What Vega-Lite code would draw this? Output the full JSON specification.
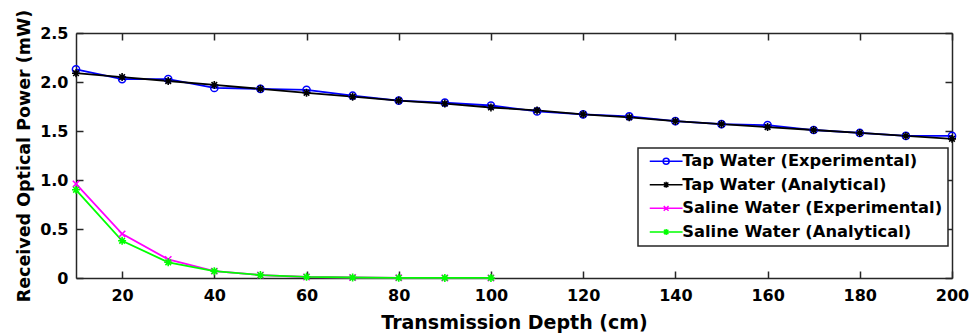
{
  "$schema": "https://vega.github.io/schema/vega-lite/v6.json",
  "width": 876,
  "height": 245,
  "autosize": "none",
  "padding": {"left": 76, "top": 33, "right": 18, "bottom": 55},
  "background": "white",
  "config": {
    "font": "DejaVu Sans",
    "view": {"stroke": null},
    "axis": {
      "domainColor": "#262626",
      "domainWidth": 1.5,
      "tickColor": "#262626",
      "tickWidth": 1.5,
      "tickSize": -7,
      "grid": false,
      "labelFont": "DejaVu Sans",
      "labelFontWeight": "bold",
      "labelFontSize": 16,
      "labelColor": "black",
      "titleFont": "DejaVu Sans",
      "titleFontWeight": "bold",
      "titleColor": "black"
    }
  },
  "data": {
    "values": [
      {"series": "Tap Water (Experimental)", "depth": 10, "power": 2.13},
      {"series": "Tap Water (Experimental)", "depth": 20, "power": 2.03},
      {"series": "Tap Water (Experimental)", "depth": 30, "power": 2.03},
      {"series": "Tap Water (Experimental)", "depth": 40, "power": 1.94},
      {"series": "Tap Water (Experimental)", "depth": 50, "power": 1.93},
      {"series": "Tap Water (Experimental)", "depth": 60, "power": 1.92},
      {"series": "Tap Water (Experimental)", "depth": 70, "power": 1.86},
      {"series": "Tap Water (Experimental)", "depth": 80, "power": 1.81},
      {"series": "Tap Water (Experimental)", "depth": 90, "power": 1.79},
      {"series": "Tap Water (Experimental)", "depth": 100, "power": 1.76},
      {"series": "Tap Water (Experimental)", "depth": 110, "power": 1.70},
      {"series": "Tap Water (Experimental)", "depth": 120, "power": 1.67},
      {"series": "Tap Water (Experimental)", "depth": 130, "power": 1.65},
      {"series": "Tap Water (Experimental)", "depth": 140, "power": 1.60},
      {"series": "Tap Water (Experimental)", "depth": 150, "power": 1.57},
      {"series": "Tap Water (Experimental)", "depth": 160, "power": 1.56},
      {"series": "Tap Water (Experimental)", "depth": 170, "power": 1.51},
      {"series": "Tap Water (Experimental)", "depth": 180, "power": 1.48},
      {"series": "Tap Water (Experimental)", "depth": 190, "power": 1.45},
      {"series": "Tap Water (Experimental)", "depth": 200, "power": 1.45},
      {"series": "Tap Water (Analytical)", "depth": 10, "power": 2.09},
      {"series": "Tap Water (Analytical)", "depth": 20, "power": 2.05},
      {"series": "Tap Water (Analytical)", "depth": 30, "power": 2.01},
      {"series": "Tap Water (Analytical)", "depth": 40, "power": 1.97},
      {"series": "Tap Water (Analytical)", "depth": 50, "power": 1.93},
      {"series": "Tap Water (Analytical)", "depth": 60, "power": 1.89},
      {"series": "Tap Water (Analytical)", "depth": 70, "power": 1.85},
      {"series": "Tap Water (Analytical)", "depth": 80, "power": 1.81},
      {"series": "Tap Water (Analytical)", "depth": 90, "power": 1.78},
      {"series": "Tap Water (Analytical)", "depth": 100, "power": 1.74},
      {"series": "Tap Water (Analytical)", "depth": 110, "power": 1.71},
      {"series": "Tap Water (Analytical)", "depth": 120, "power": 1.67},
      {"series": "Tap Water (Analytical)", "depth": 130, "power": 1.64},
      {"series": "Tap Water (Analytical)", "depth": 140, "power": 1.60},
      {"series": "Tap Water (Analytical)", "depth": 150, "power": 1.57},
      {"series": "Tap Water (Analytical)", "depth": 160, "power": 1.54},
      {"series": "Tap Water (Analytical)", "depth": 170, "power": 1.51},
      {"series": "Tap Water (Analytical)", "depth": 180, "power": 1.48},
      {"series": "Tap Water (Analytical)", "depth": 190, "power": 1.45},
      {"series": "Tap Water (Analytical)", "depth": 200, "power": 1.42},
      {"series": "Saline Water (Experimental)", "depth": 10, "power": 0.96},
      {"series": "Saline Water (Experimental)", "depth": 20, "power": 0.45},
      {"series": "Saline Water (Experimental)", "depth": 30, "power": 0.19},
      {"series": "Saline Water (Experimental)", "depth": 40, "power": 0.07},
      {"series": "Saline Water (Experimental)", "depth": 50, "power": 0.03},
      {"series": "Saline Water (Experimental)", "depth": 60, "power": 0.01},
      {"series": "Saline Water (Experimental)", "depth": 70, "power": 0.005},
      {"series": "Saline Water (Experimental)", "depth": 80, "power": 0.002},
      {"series": "Saline Water (Experimental)", "depth": 90, "power": 0.001},
      {"series": "Saline Water (Experimental)", "depth": 100, "power": 0.0005},
      {"series": "Saline Water (Analytical)", "depth": 10, "power": 0.90},
      {"series": "Saline Water (Analytical)", "depth": 20, "power": 0.38},
      {"series": "Saline Water (Analytical)", "depth": 30, "power": 0.16},
      {"series": "Saline Water (Analytical)", "depth": 40, "power": 0.07},
      {"series": "Saline Water (Analytical)", "depth": 50, "power": 0.03},
      {"series": "Saline Water (Analytical)", "depth": 60, "power": 0.012},
      {"series": "Saline Water (Analytical)", "depth": 70, "power": 0.005},
      {"series": "Saline Water (Analytical)", "depth": 80, "power": 0.002},
      {"series": "Saline Water (Analytical)", "depth": 90, "power": 0.001},
      {"series": "Saline Water (Analytical)", "depth": 100, "power": 0.0005}
    ]
  },
  "layer": [
    {
      "mark": {"type": "line", "strokeWidth": 1.8},
      "encoding": {
        "x": {
          "field": "depth", "type": "quantitative",
          "scale": {"domain": [10, 200], "nice": false, "zero": false},
          "axis": {"orient": "bottom", "values": [20, 40, 60, 80, 100, 120, 140, 160, 180, 200], "title": "Transmission Depth (cm)", "titleFontSize": 19, "labelPadding": 16, "titlePadding": 10, "labelFlush": false}
        },
        "y": {
          "field": "power", "type": "quantitative",
          "scale": {"domain": [0, 2.5], "nice": false},
          "axis": {"orient": "left", "values": [0, 0.5, 1, 1.5, 2, 2.5], "labelExpr": "datum.value == 0 ? '0' : format(datum.value, '.1f')", "title": "Received Optical Power (mW)", "titleFontSize": 17.5, "labelPadding": 15, "titlePadding": 6, "labelFlush": false}
        },
        "color": {
          "field": "series", "type": "nominal",
          "scale": {
            "domain": ["Tap Water (Experimental)", "Tap Water (Analytical)", "Saline Water (Experimental)", "Saline Water (Analytical)"],
            "range": ["#0000FF", "#000000", "#FF00FF", "#00FF00"]
          },
          "legend": {
            "orient": "none",
            "legendX": 562,
            "legendY": 115,
            "title": null,
            "strokeColor": "#262626",
            "fillColor": "white",
            "padding": 5,
            "labelFont": "DejaVu Sans",
            "labelFontWeight": "bold",
            "labelFontSize": 16.3,
            "labelColor": "black",
            "labelLimit": 400,
            "symbolSize": 64,
            "symbolStrokeWidth": 1.5,
            "symbolFillColor": "transparent",
            "symbolOffset": 15,
            "labelOffset": 8,
            "rowPadding": 6.6,
            "encode": {
              "legend": {"update": {"strokeWidth": {"value": 1.5}}},
              "symbols": {
                "update": {
                  "shape": {"signal": "datum.value === 'Tap Water (Experimental)' ? 'M-4.1,0H4.1M-0.75,0A0.75,0.75 0 1,0 0.75,0A0.75,0.75 0 1,0 -0.75,0' : datum.value === 'Saline Water (Experimental)' ? 'M-4.1,0H4.1M-0.6,-0.6L0.6,0.6M-0.6,0.6L0.6,-0.6' : 'M-4.1,0H4.1M0,-0.75V0.75M-0.55,-0.55L0.55,0.55M-0.55,0.55L0.55,-0.55'"}
                }
              }
            }
          }
        }
      }
    },
    {
      "transform": [{"filter": "datum.series === 'Tap Water (Experimental)'"}],
      "mark": {"type": "point", "filled": false, "strokeWidth": 1.5, "size": 64, "opacity": 1, "color": "#0000FF", "shape": "M-0.9,0A0.9,0.9 0 1,0 0.9,0A0.9,0.9 0 1,0 -0.9,0"},
      "encoding": {
        "x": {
          "field": "depth", "type": "quantitative",
          "scale": {"domain": [10, 200], "nice": false, "zero": false},
          "axis": {"orient": "top", "values": [20, 40, 60, 80, 100, 120, 140, 160, 180, 200], "labels": false, "title": null}
        },
        "y": {
          "field": "power", "type": "quantitative",
          "scale": {"domain": [0, 2.5], "nice": false},
          "axis": {"orient": "right", "values": [0, 0.5, 1, 1.5, 2, 2.5], "labels": false, "title": null}
        }
      }
    },
    {
      "transform": [{"filter": "datum.series === 'Tap Water (Analytical)'"}],
      "mark": {"type": "point", "filled": false, "strokeWidth": 1.6, "size": 64, "opacity": 1, "color": "#000000", "shape": "M-1,0H1M0,-1V1M-0.7,-0.7L0.7,0.7M-0.7,0.7L0.7,-0.7"},
      "encoding": {
        "x": {"field": "depth", "type": "quantitative", "axis": null},
        "y": {"field": "power", "type": "quantitative", "axis": null}
      }
    },
    {
      "transform": [{"filter": "datum.series === 'Saline Water (Experimental)'"}],
      "mark": {"type": "point", "filled": false, "strokeWidth": 1.5, "size": 64, "opacity": 1, "color": "#FF00FF", "shape": "M-0.8,-0.8L0.8,0.8M-0.8,0.8L0.8,-0.8"},
      "encoding": {
        "x": {"field": "depth", "type": "quantitative", "axis": null},
        "y": {"field": "power", "type": "quantitative", "axis": null}
      }
    },
    {
      "transform": [{"filter": "datum.series === 'Saline Water (Analytical)'"}],
      "mark": {"type": "point", "filled": false, "strokeWidth": 1.6, "size": 64, "opacity": 1, "color": "#00FF00", "shape": "M-1,0H1M0,-1V1M-0.7,-0.7L0.7,0.7M-0.7,0.7L0.7,-0.7"},
      "encoding": {
        "x": {"field": "depth", "type": "quantitative", "axis": null},
        "y": {"field": "power", "type": "quantitative", "axis": null}
      }
    }
  ],
  "resolve": {"axis": {"x": "independent", "y": "independent"}}
}
